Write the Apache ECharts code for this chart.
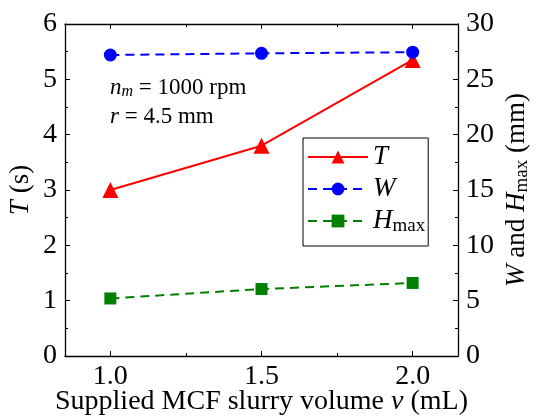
<!DOCTYPE html>
<html>
<head>
<meta charset="utf-8">
<script src="https://cdn.jsdelivr.net/npm/echarts@6/dist/echarts.min.js"></script>
<style>
  html, body { margin: 0; padding: 0; background: #fff; }
  #main { width: 537px; height: 418px; }
</style>
</head>
<body>
<div id="main"></div>
<script>
  // volume v (mL)
  var volumes = [1.0, 1.5, 2.0];
  // T (s), left axis
  var tValues = [3.0, 3.8, 5.35];
  // W and Hmax (mm), right axis
  var wValues = [27.2, 27.35, 27.45];
  var hValues = [5.2, 6.05, 6.6];

  var xMajorTicks = [1.0, 1.5, 2.0];
  var xMinorTicks = [1.25, 1.75];

  var FONT = '"Liberation Serif", "DejaVu Serif", serif';

  var chartDom = document.getElementById('main');
  var myChart = echarts.init(chartDom);

  function pairs(ys) {
    var out = [];
    for (var i = 0; i < volumes.length; i++) {
      out.push([volumes[i], ys[i]]);
    }
    return out;
  }

  function richFor(size) {
    return {
      i: { fontStyle: 'italic', fontFamily: FONT, fontSize: size, color: '#000' },
      sub: { fontFamily: FONT, fontSize: Math.round(size * 0.72), color: '#000', padding: [Math.round(size * 0.42), 0, 0, 0] }
    };
  }

  function xAxisBase(pos, ticks, len, showLine) {
    return {
      type: 'value',
      position: pos,
      min: 0.85,
      max: 2.15,
      axisLine: { show: showLine, onZero: false, lineStyle: { color: '#000', width: 1.3 } },
      axisTick: { show: true, inside: true, length: len, customValues: ticks, lineStyle: { color: '#000', width: 1 } },
      axisLabel: { show: false },
      splitLine: { show: false }
    };
  }

  var mainX = xAxisBase('bottom', xMajorTicks, 5, true);
  mainX.axisLabel = {
    show: true,
    customValues: xMajorTicks,
    margin: 7,
    fontFamily: FONT,
    fontSize: 28,
    color: '#000',
    formatter: function (v) { return v.toFixed(1); }
  };
  mainX.name = 'Supplied MCF slurry volume {i|v} (mL)';
  mainX.nameLocation = 'middle';
  mainX.nameGap = 32;
  mainX.nameMoveOverlap = false;
  mainX.nameTextStyle = { fontFamily: FONT, fontSize: 28, color: '#000', rich: richFor(28) };

  var option = {
    animation: false,
    grid: { left: 65, right: 79, top: 24, bottom: 62, outerBoundsMode: 'none' },
    xAxis: [
      mainX,
      xAxisBase('bottom', xMinorTicks, 3, false),
      xAxisBase('top', xMajorTicks, 5, true),
      xAxisBase('top', xMinorTicks, 3, false)
    ],
    yAxis: [
      {
        type: 'value',
        position: 'left',
        min: 0,
        max: 6,
        interval: 1,
        name: '{i|T} (s)',
        nameLocation: 'middle',
        nameGap: 31,
        nameMoveOverlap: false,
        nameTextStyle: { fontFamily: FONT, fontSize: 27, color: '#000', rich: richFor(27) },
        axisLine: { show: true, lineStyle: { color: '#000', width: 1.3 } },
        axisTick: { show: true, inside: true, length: 5, lineStyle: { color: '#000' } },
        minorTick: { show: true, splitNumber: 2, length: 3, lineStyle: { color: '#000' } },
        axisLabel: { margin: 8, fontFamily: FONT, fontSize: 28, color: '#000' },
        splitLine: { show: false }
      },
      {
        type: 'value',
        position: 'right',
        min: 0,
        max: 30,
        interval: 5,
        name: '{i|W} and {i|H}{sub|max} (mm)',
        nameLocation: 'middle',
        nameGap: 44,
        nameMoveOverlap: false,
        nameTextStyle: { fontFamily: FONT, fontSize: 27, color: '#000', rich: richFor(27) },
        axisLine: { show: true, lineStyle: { color: '#000', width: 1.3 } },
        axisTick: { show: true, inside: true, length: 5, lineStyle: { color: '#000' } },
        minorTick: { show: true, splitNumber: 2, length: 3, lineStyle: { color: '#000' } },
        axisLabel: { margin: 8, fontFamily: FONT, fontSize: 28, color: '#000' },
        splitLine: { show: false }
      }
    ],
    legend: {
      orient: 'vertical',
      left: 303,
      top: 138,
      padding: [5, 3, 10, 4],
      itemWidth: 60,
      itemHeight: 16,
      itemGap: 4,
      borderColor: '#000',
      borderWidth: 1,
      borderRadius: 0,
      data: ['T', 'W', 'H'],
      formatter: function (name) {
        if (name === 'H') return '{i|H}{sub|max}';
        return '{i|' + name + '}';
      },
      textStyle: { fontFamily: FONT, fontSize: 27, color: '#000', lineHeight: 28, rich: richFor(27) }
    },
    graphic: [
      {
        type: 'text',
        left: 110,
        top: 76,
        style: {
          text: '{i|n}{s|m} = 1000 rpm',
          fontFamily: FONT,
          fontSize: 23,
          fill: '#000',
          rich: {
            i: { fontStyle: 'italic', fontFamily: FONT, fontSize: 23 },
            s: { fontStyle: 'italic', fontFamily: FONT, fontSize: 16, padding: [9, 0, 0, 0] }
          }
        }
      },
      {
        type: 'text',
        left: 110,
        top: 105,
        style: {
          text: '{i|r} = 4.5 mm',
          fontFamily: FONT,
          fontSize: 23,
          fill: '#000',
          rich: {
            i: { fontStyle: 'italic', fontFamily: FONT, fontSize: 23 }
          }
        }
      }
    ],
    series: [
      {
        name: 'T',
        type: 'line',
        xAxisIndex: 0,
        yAxisIndex: 0,
        data: pairs(tValues),
        symbol: 'triangle',
        symbolSize: 16,
        color: '#ff0000',
        lineStyle: { color: '#ff0000', width: 2 },
        itemStyle: { color: '#ff0000' }
      },
      {
        name: 'W',
        type: 'line',
        xAxisIndex: 0,
        yAxisIndex: 1,
        data: pairs(wValues),
        symbol: 'circle',
        symbolSize: 13,
        color: '#0000ff',
        lineStyle: { color: '#0000ff', width: 2, type: [9, 6] },
        itemStyle: { color: '#0000ff' }
      },
      {
        name: 'H',
        type: 'line',
        xAxisIndex: 0,
        yAxisIndex: 1,
        data: pairs(hValues),
        symbol: 'rect',
        symbolSize: 12,
        color: '#008000',
        lineStyle: { color: '#008000', width: 2, type: [9, 6] },
        itemStyle: { color: '#008000' }
      }
    ]
  };

  myChart.setOption(option);
</script>
</body>
</html>
